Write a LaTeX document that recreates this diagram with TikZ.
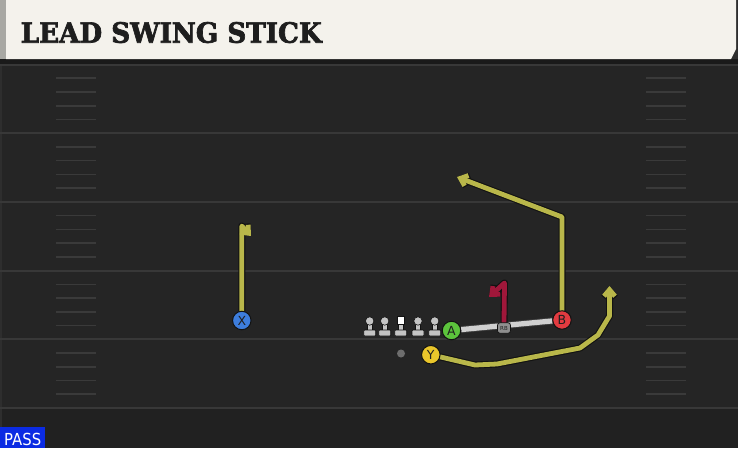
\documentclass[tikz,border=0pt]{standalone}
\usepackage{fontspec}
\usepackage{graphicx}
\usetikzlibrary{arrows.meta}
\newfontfamily\titlefont{DejaVu Serif}[BoldFeatures={FakeBold=2.5}]
\newfontfamily\uifont{DejaVu Sans}
\definecolor{fieldbg}{HTML}{252525}
\definecolor{fieldlow}{HTML}{212121}
\definecolor{yardline}{HTML}{383838}
\definecolor{hashline}{HTML}{3A3A3A}
\definecolor{titlecream}{HTML}{F4F2EC}
\definecolor{titleedge}{HTML}{A8A8A3}
\definecolor{titletext}{HTML}{1E1E1E}
\definecolor{bandcol}{HTML}{1A1A1A}
\definecolor{edgecol}{HTML}{2E2E2E}
\definecolor{passblue}{HTML}{0B2BE3}
\definecolor{routeyel}{HTML}{B9B74A}
\definecolor{routered}{HTML}{A0173A}
\definecolor{outl}{HTML}{121212}
\definecolor{xblue}{HTML}{3D7DDC}
\definecolor{agreen}{HTML}{5CC43C}
\definecolor{bred}{HTML}{E23B40}
\definecolor{yyel}{HTML}{EAC62B}
\definecolor{lettercol}{HTML}{1F1F1F}
\definecolor{olcol}{HTML}{C4C4C4}
\definecolor{motion}{HTML}{D0D0D0}
\definecolor{motionedge}{HTML}{3C3C3C}
\definecolor{rbgray}{HTML}{8F8F8F}
\definecolor{qbgray}{HTML}{6E6E6E}
\pgfdeclarelayer{fieldlayer}
\pgfdeclarelayer{routelayer}
\pgfsetlayers{fieldlayer,routelayer,main}
\tikzset{
  pics/lineman/.style={code={
    \fill[olcol,draw=outl,line width=0.6pt] (-2.6,2.5) rectangle (2.6,10);
    \fill[olcol,draw=outl,line width=0.6pt,rounded corners=1pt] (-6,9) rectangle (6,15);
    \fill[olcol,draw=outl,line width=0.6pt] (0,0) circle (4.2pt);
  }},
  pics/centerman/.style={code={
    \fill[olcol,draw=outl,line width=0.6pt] (-2.6,2.5) rectangle (2.6,10);
    \fill[olcol,draw=outl,line width=0.6pt,rounded corners=1pt] (-6,9) rectangle (6,15);
    \fill[white,draw=outl,line width=0.6pt] (-3.8,-4.5) rectangle (3.8,3.5);
  }},
}
\begin{document}
\begin{tikzpicture}[x=1pt,y=-1pt,
  player/.style={circle, draw=outl, line width=1pt, minimum size=18.5pt, inner sep=0pt,
    font=\uifont\fontsize{12.5}{12.5}\selectfont, text=lettercol},
  yard/.style={draw=yardline, line width=2pt},
  hashmark/.style={draw=hashline, line width=1.6pt},
  routeout/.style={draw=outl, line width=7pt, line join=round, line cap=round,
    -{Straight Barb[length=6.5pt,width=11pt]}},
  routein/.style={draw=#1, line width=4.8pt, line join=round, line cap=round,
    -{Straight Barb[length=6.5pt,width=11pt]}},
  motionout/.style={draw=motionedge, line width=7pt},
  motionin/.style={draw=motion, line width=5.2pt},
  rbbox/.style={draw=outl, line width=0.7pt, fill=rbgray, rounded corners=2.5pt,
    minimum width=13pt, minimum height=10.5pt, inner sep=0pt,
    font=\uifont\fontsize{5.5}{5.5}\selectfont, text=lettercol},
]
\useasboundingbox (0,0) rectangle (738,448);
\begin{pgfonlayer}{fieldlayer}
  \fill[fieldbg] (0,0) rectangle (738,448);
  \fill[fieldlow] (0,408) rectangle (738,448);
  \fill[edgecol] (0,60) rectangle (2,448);
  \foreach \ly in {64.5,133.2,201.9,270.6,339.3,408}
    \draw[yard] (0,\ly) -- (738,\ly);
  \foreach \ly in {64.5,133.2,201.9,270.6,339.3}{
    \foreach \k in {1,...,4}{
      \pgfmathsetmacro\hy{\ly+13.74*\k}
      \draw[hashmark] (56,\hy) -- (96,\hy);
      \draw[hashmark] (646,\hy) -- (686,\hy);
    }}
  % title bar
  \fill[bandcol] (0,59) rectangle (738,63.5);
  \fill[edgecol] (730,0) rectangle (738,59);
  \fill[titleedge] (0,0) rectangle (6,59);
  \fill[titlecream] (6,0) -- (736,0) -- (736,49) -- (731,59) -- (6,59) -- cycle;
  % pass box
  \fill[passblue] (0,426.5) rectangle (45,448);
\end{pgfonlayer}

\node[anchor=base west, inner sep=0pt, text=titletext] (title) at (20.5,42.7)
  {\resizebox{301pt}{20.7pt}{\titlefont\bfseries LEAD SWING STICK}};
\node[anchor=base west, inner sep=0pt, text=white] (pass) at (4,445)
  {\resizebox{37pt}{12.3pt}{\uifont PASS}};

% offensive line
\pic at (369.7,321) {lineman};
\pic at (384.7,321) {lineman};
\pic at (400.7,321) {centerman};
\pic at (418,321) {lineman};
\pic at (434.7,321) {lineman};

% players
\node[circle, fill=qbgray, minimum size=8pt, inner sep=0pt] (QB) at (401,353.5) {};
\node[player, fill=xblue] (X) at (241.8,320.5) {X};
\node[player, fill=agreen] (A) at (451.5,330.5) {A};
\node[player, fill=bred] (B) at (562,320) {B};
\node[player, fill=yyel] (Y) at (430.8,354.7) {Y};
\node[rbbox] (RB) at (504,328) {RB};

% route waypoints
\coordinate (xtop) at (241.8,226);
\coordinate (xend) at (251,236);
\coordinate (bturn) at (562,217);
\coordinate (bend) at (457,177);
\coordinate (rtop) at (504.5,283);
\coordinate (rend) at (489,297);
\coordinate (y1) at (475,365);
\coordinate (y2) at (497,364);
\coordinate (y3) at (580,348);
\coordinate (y4) at (598,335);
\coordinate (y5) at (609.5,316);
\coordinate (yend) at (609.5,286);

\begin{pgfonlayer}{routelayer}
  \draw[motionout] (A) -- (B);
  \draw[motionin] (A) -- (B);
  \draw[routeout] (X) -- (xtop) -- (xend);
  \draw[routein=routeyel] (X) -- (xtop) -- (xend);
  \draw[routeout] (B) -- (bturn) -- (bend);
  \draw[routein=routeyel] (B) -- (bturn) -- (bend);
  \draw[routeout] (Y) -- (y1) -- (y2) -- (y3) -- (y4) -- (y5) -- (yend);
  \draw[routein=routeyel] (Y) -- (y1) -- (y2) -- (y3) -- (y4) -- (y5) -- (yend);
  \draw[routeout] (RB.north) -- (rtop) -- (rend);
  \draw[routein=routered] (RB.north) -- (rtop) -- (rend);
\end{pgfonlayer}
\end{tikzpicture}
\end{document}
